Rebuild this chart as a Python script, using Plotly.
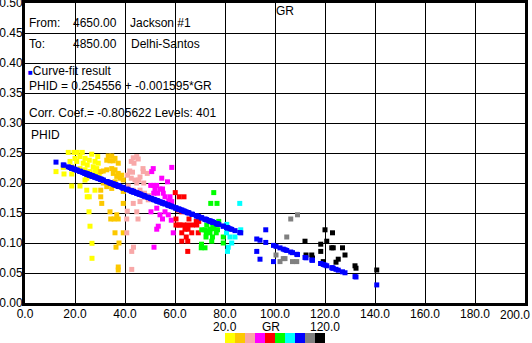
import plotly.graph_objects as go

# ---------------- data (GR, PHID) ----------------
gr_yellow = [12.4, 15.3, 15.6, 17.3, 18.0, 18.7, 18.7, 18.7, 19.6, 20.0, 20.7, 20.9, 22.0, 22.0,
             22.0, 22.9, 23.3, 24.0, 24.0, 24.0, 24.7, 24.7, 24.9, 24.9, 25.3, 25.6, 25.7, 25.7,
             26.0, 26.0, 26.7, 26.8, 26.8, 27.1, 27.3, 28.0, 28.0, 28.0, 28.7, 29.1, 29.3, 29.7]
phid_yellow = [0.219, 0.226, 0.215, 0.251, 0.236, 0.227, 0.215, 0.195, 0.251, 0.241, 0.236, 0.251, 0.244, 0.224,
               0.195, 0.251, 0.233, 0.241, 0.222, 0.205, 0.208, 0.188, 0.230, 0.177, 0.213, 0.152, 0.238, 0.177,
               0.219, 0.128, 0.248, 0.0995, 0.0745, 0.211, 0.227, 0.236, 0.219, 0.188, 0.224, 0.244, 0.233, 0.216]

gr_orange = [30.3, 30.3, 30.3, 30.7, 31.3, 31.3, 32.7, 32.7, 32.7, 33.3, 34.0, 34.0, 34.3, 34.7, 34.7,
             34.7, 35.3, 35.3, 35.6, 36.0, 36.0, 36.0, 36.0, 36.4, 36.7, 36.7, 37.3, 37.3, 37.3, 37.3,
             37.6, 38.0, 38.7, 39.3, 39.3, 39.3, 39.3, 37.3]
phid_orange = [0.219, 0.188, 0.177, 0.166, 0.220, 0.200, 0.238, 0.222, 0.194, 0.245, 0.237, 0.152, 0.140, 0.245, 0.224,
               0.191, 0.237, 0.216, 0.140, 0.241, 0.222, 0.202, 0.117, 0.093, 0.211, 0.147, 0.233, 0.216, 0.140, 0.060,
               0.100, 0.208, 0.213, 0.205, 0.186, 0.166, 0.117, 0.055]

gr_pink = [40.7, 40.7, 40.9, 41.0, 41.3, 41.9, 42.5, 42.5, 42.7, 42.7, 43.0, 43.3, 43.3, 43.3, 43.4, 43.6,
           44.0, 44.7, 44.7, 44.7, 45.2, 45.3, 45.5, 46.0, 46.0, 46.0, 46.7, 47.2, 47.3, 47.5, 47.8, 48.0,
           48.9, 49.3, 49.5]
phid_pink = [0.140, 0.117, 0.153, 0.213, 0.195, 0.220, 0.236, 0.208, 0.086, 0.056, 0.218, 0.242, 0.188, 0.166, 0.093, 0.233,
             0.205, 0.244, 0.200, 0.152, 0.140, 0.240, 0.205, 0.210, 0.188, 0.169, 0.180, 0.224, 0.219, 0.200, 0.183, 0.176,
             0.216, 0.172, 0.179]

gr_magenta = [50.3, 50.4, 50.7, 51.3, 51.5, 51.5, 51.6, 52.0, 52.7, 52.7, 52.7, 53.0, 53.3, 54.0, 54.0, 54.7,
              55.0, 55.0, 55.3, 56.0, 56.0, 57.0, 57.3, 57.5, 58.0, 58.5, 58.7, 58.7, 59.3]
phid_magenta = [0.196, 0.152, 0.219, 0.224, 0.196, 0.183, 0.093, 0.190, 0.196, 0.158, 0.123, 0.183, 0.128, 0.190, 0.147, 0.208,
                0.190, 0.140, 0.183, 0.177, 0.152, 0.202, 0.147, 0.170, 0.177, 0.138, 0.226, 0.169, 0.117]

gr_red = [60.1, 60.4, 60.4, 61.3, 61.5, 61.7, 62.0, 62.7, 62.7, 62.7, 63.5, 63.6, 64.0, 64.5, 65.0, 65.1,
          65.1, 65.2, 65.6, 66.7, 67.0, 68.5, 68.7, 69.3, 69.5]
phid_red = [0.184, 0.140, 0.130, 0.155, 0.130, 0.177, 0.130, 0.152, 0.117, 0.103, 0.130, 0.177, 0.123, 0.110, 0.130, 0.103,
            0.086, 0.123, 0.140, 0.117, 0.130, 0.136, 0.130, 0.117, 0.136]

gr_green = [70.5, 70.6, 70.7, 72.0, 72.0, 72.4, 72.5, 72.7, 73.5, 74.0, 74.0, 74.3, 74.7, 75.0, 75.1, 75.5,
            75.5, 76.5, 76.7, 76.8, 77.0, 77.5, 79.3, 79.3]
phid_green = [0.092, 0.098, 0.122, 0.122, 0.092, 0.110, 0.117, 0.130, 0.120, 0.123, 0.117, 0.166, 0.103, 0.110, 0.130, 0.184,
              0.124, 0.117, 0.130, 0.166, 0.122, 0.136, 0.110, 0.100]

gr_cyan = [80.6, 80.7, 81.0, 81.3, 82.0, 82.7, 84.0, 85.9, 86.3]
phid_cyan = [0.117, 0.131, 0.086, 0.093, 0.110, 0.100, 0.110, 0.166, 0.122]

gr_blue = [92.7, 94.0, 96.3, 99.4]
phid_blue = [0.086, 0.073, 0.122, 0.069]

gr_gray = [100.4, 102.0, 103.3, 104.0, 104.7, 106.3, 107.0, 108.7, 109.0]
phid_gray = [0.080, 0.069, 0.074, 0.074, 0.110, 0.140, 0.069, 0.069, 0.147]

gr_black = [112.0, 112.4, 114.7, 115.0, 118.3, 118.3, 119.3, 120.0, 120.7, 122.7, 123.0, 123.3, 124.4, 125.3,
            127.0, 128.0, 132.0, 132.4, 140.7]
phid_black = [0.103, 0.080, 0.080, 0.075, 0.098, 0.086, 0.069, 0.122, 0.103, 0.092, 0.117, 0.092, 0.068, 0.073,
              0.092, 0.080, 0.062, 0.058, 0.055]

# regression result shown on the chart
FIT_A = 0.254556
FIT_B = -0.001595

x_ticks = [0, 20, 40, 60, 80, 100, 120, 140, 160, 180, 200]
y_ticks = [0.0, 0.05, 0.10, 0.15, 0.20, 0.25, 0.30, 0.35, 0.40, 0.45, 0.50]
bin_colors = ["#ffff00", "#fcc800", "#f8a8a8", "#ff00ff", "#ff0000",
              "#00ff00", "#00ffff", "#0000ff", "#808080", "#000000"]
GR_MIN, GR_MAX = 20.0, 120.0

GR = gr_yellow + gr_orange + gr_pink + gr_magenta + gr_red + gr_green + gr_cyan + gr_blue + gr_gray + gr_black
PHID = (phid_yellow + phid_orange + phid_pink + phid_magenta + phid_red + phid_green + phid_cyan
        + phid_blue + phid_gray + phid_black)
FIT = [FIT_A + FIT_B * g for g in GR]

# ---------------- layout helpers ----------------
W, H = 532, 343
ML, MR, MT, MB = 25, 7, 3, 40
PW, PH = W - ML - MR, H - MT - MB
FONT = "Liberation Sans, Arial, sans-serif"


def px(x):
    return (x - ML) / PW


def py(y):
    return (H - MB - y) / PH


n = len(bin_colors)
cscale = []
for i, c in enumerate(bin_colors):
    cscale.append([i / n, c])
    cscale.append([(i + 1) / n, c])

fig = go.Figure()
fig.add_trace(go.Scatter(
    x=GR, y=PHID, mode="markers",
    marker=dict(symbol="square", size=5, line=dict(width=0),
                color=GR, colorscale=cscale, cmin=GR_MIN, cmax=GR_MAX, showscale=True,
                colorbar=dict(orientation="h", x=px(225), xanchor="left", y=py(333), yanchor="top",
                              len=100, lenmode="pixels", thickness=10, thicknessmode="pixels",
                              outlinewidth=0, showticklabels=False, ticks="", xpad=0, ypad=0)),
    showlegend=False, hoverinfo="skip"))
fig.add_trace(go.Scatter(
    x=GR, y=FIT, mode="markers",
    marker=dict(symbol="square", size=5, color="#0000ff", line=dict(width=0)),
    showlegend=False, hoverinfo="skip"))

axis_common = dict(showgrid=True, gridcolor="black", gridwidth=1.3, zeroline=False,
                   showline=True, linecolor="black", linewidth=3, mirror=True, ticks="",
                   ticklabeloverflow="allow",
                   tickfont=dict(family=FONT, size=12, color="black"))
# last x label is drawn flush with the right edge (as in the reference), so it is left blank on the axis
x_ticktext = ["%.1f" % v for v in x_ticks[:-1]] + [""]
fig.update_xaxes(range=[0, 200], tickvals=x_ticks, ticktext=x_ticktext, ticklabelstandoff=-2, **axis_common)
fig.update_yaxes(range=[0, 0.5], tickvals=y_ticks, tickformat=".2f", ticklabelstandoff=-3, **axis_common)

notes = [
    (27, 23, "From:"), (71, 23, "4650.00"), (128, 23, "Jackson #1"),
    (27, 44, "To:"), (71, 44, "4850.00"), (129, 44, "Delhi-Santos"),
    (26, 71, "<span style='color:#0000ff;font-size:8px'>■</span>Curve-fit result"),
    (27, 86, "PHID = %.6f + %.6f*GR" % (FIT_A, FIT_B)),
    (27, 113, "Corr. Coef.= -0.805622 Levels: 401"),
    (29, 135, "PHID"),
    (274, 11, "GR"),
    (260, 327, "GR"),
]
annos = []
for x0, y0, t in notes:
    annos.append(dict(x=px(x0), y=py(y0), xref="paper", yref="paper", text=t, showarrow=False,
                      xanchor="left", yanchor="middle", font=dict(family=FONT, size=12, color="black")))
annos.append(dict(x=px(225), y=py(327), xref="paper", yref="paper", text="%.1f" % GR_MIN, showarrow=False,
                  xanchor="center", yanchor="middle", font=dict(family=FONT, size=12, color="black")))
annos.append(dict(x=px(325), y=py(327), xref="paper", yref="paper", text="%.1f" % GR_MAX, showarrow=False,
                  xanchor="center", yanchor="middle", font=dict(family=FONT, size=12, color="black")))
annos.append(dict(x=1.0, y=0, xref="paper", yref="paper", yshift=-12, text="%.1f" % x_ticks[-1],
                  showarrow=False, xanchor="right", yanchor="middle", xshift=MR,
                  font=dict(family=FONT, size=12, color="black")))

fig.update_layout(width=W, height=H, margin=dict(l=ML, r=MR, t=MT, b=MB, autoexpand=False),
                  paper_bgcolor="white", plot_bgcolor="white", annotations=annos, showlegend=False)
fig.write_html("out.html")
